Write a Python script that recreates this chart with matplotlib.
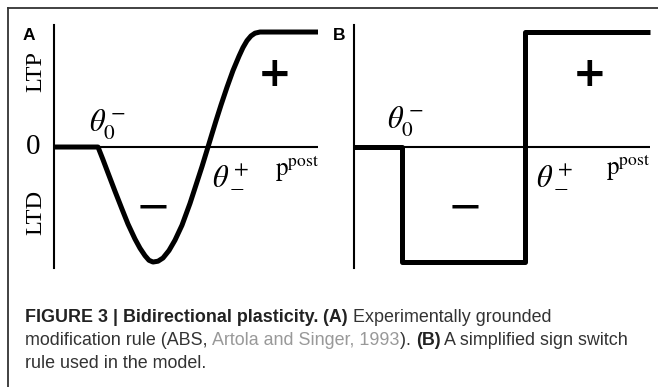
import matplotlib
matplotlib.use("Agg")
import matplotlib.pyplot as plt
from matplotlib.lines import Line2D

W, H = 658, 387
plt.rcParams["mathtext.fontset"] = "stix"

# (A) experimentally grounded rule (ABS)
abs_x = [0, 1.667, 1.856, 2.045, 2.311, 2.576, 2.803, 3.068, 3.258, 3.447,
         3.598, 3.75, 3.939, 4.129, 4.356, 4.583, 4.848, 5.152, 5.379, 5.606,
         5.833, 5.985, 6.136, 6.326, 6.553, 6.78, 7.008, 7.159, 7.311,
         7.462, 7.614, 7.803, 10.0]
abs_y = [0, 0, -0.11, -0.225, -0.385, -0.54, -0.67, -0.80, -0.88, -0.945,
         -0.985, -1.0, -0.993, -0.965, -0.90, -0.81, -0.68, -0.49, -0.33, -0.17,
         0.0, 0.115, 0.228, 0.365, 0.52, 0.665, 0.79, 0.865, 0.925,
         0.966, 0.99, 1.0, 1.0]

# (B) simplified sign switch rule
switch_x = [0, 1.62, 1.62, 5.78, 5.78, 10.0]
switch_y = [0, 0, -1.0, -1.0, 1.0, 1.0]

caption = [
    [("FIGURE 3 | Bidirectional plasticity.", "bold", "#222222"),
     (" (A)", "bold", "#222222"),
     (" Experimentally grounded", "normal", "#333333")],
    [("modification rule (ABS, ", "normal", "#333333"),
     ("Artola and Singer, 1993", "normal", "#999999"),
     ("). ", "normal", "#333333"),
     ("(B)", "bold", "#222222"),
     (" A simplified sign switch", "normal", "#333333")],
    [("rule used in the model.", "normal", "#333333")],
]
caption_baselines = [322, 345, 368]

fig = plt.figure(figsize=(W / 100, H / 100), dpi=100)
fig.patch.set_facecolor("white")

# outer frame (top and left edges only)
fig.add_artist(Line2D([8 / W, 1], [1 - 8 / H, 1 - 8 / H], color="#333333", lw=1.3))
fig.add_artist(Line2D([8 / W, 8 / W], [0, 1 - 8 / H], color="#333333", lw=1.3))

bottom, height = 1 - 268 / H, 243 / H
axA = fig.add_axes([54 / W, bottom, 264 / W, height])
axB = fig.add_axes([354 / W, bottom, 296 / W, height])

serif = "Liberation Serif"
for ax, x, y in [(axA, abs_x, abs_y), (axB, switch_x, switch_y)]:
    ax.set_xlim(0, 10)
    ax.set_ylim(-1.052, 1.061)
    for s in ["top", "right", "bottom"]:
        ax.spines[s].set_visible(False)
    ax.spines["left"].set_linewidth(1.5)
    ax.set_xticks([])
    ax.set_yticks([])
    ax.patch.set_alpha(0)
    ax.axhline(0, color="black", lw=1.5)
    ax.plot(x, y, color="black", lw=3.6, solid_joinstyle="round",
            solid_capstyle="butt", clip_on=False)

theta0 = r"$\theta_0^-$"
theta_pm = r"$\theta_-^+$"
ppost = r"$\mathrm{p}^{\mathrm{post}}$"

# panel A labels
axA.text(-0.95, 0.97, "A", fontsize=12.5, fontweight="bold", family="Liberation Sans",
         ha="center", va="center")
axA.text(-0.70, 0.66, "LTP", fontsize=17.5, family=serif, rotation=90,
         ha="center", va="center")
axA.text(-0.80, 0.0, "0", fontsize=21, family=serif, ha="center", va="center")
axA.text(-0.70, -0.57, "LTD", fontsize=17.5, family=serif, rotation=90,
         ha="center", va="center")
axA.text(2.01, 0.19, theta0, fontsize=22, ha="center", va="center")
axA.text(6.70, -0.24, theta_pm, fontsize=22, ha="center", va="center")
axA.text(9.2, -0.18, ppost, fontsize=18, ha="center", va="center")
axA.text(8.37, 0.63, "+", fontsize=29, fontweight="bold", ha="center", va="center")
axA.text(3.75, -0.53, "\u2212", fontsize=30, ha="center", va="center")

# panel B labels
axB.text(-0.51, 0.97, "B", fontsize=12.5, fontweight="bold", family="Liberation Sans",
         ha="center", va="center")
axB.text(1.72, 0.22, theta0, fontsize=22, ha="center", va="center")
axB.text(6.76, -0.24, theta_pm, fontsize=22, ha="center", va="center")
axB.text(9.26, -0.17, ppost, fontsize=18, ha="center", va="center")
axB.text(7.97, 0.63, "+", fontsize=29, fontweight="bold", ha="center", va="center")
axB.text(3.75, -0.53, "\u2212", fontsize=30, ha="center", va="center")

# caption, built run by run so bold / grey parts follow on
renderer = fig.canvas.get_renderer()
for runs, base in zip(caption, caption_baselines):
    xpix = 25
    for s, weight, color in runs:
        t = fig.text(xpix / W, 1 - base / H, s, fontsize=12.9, fontweight=weight,
                     color=color, family="Liberation Sans", va="baseline", ha="left")
        xpix += t.get_window_extent(renderer).width

fig.savefig("out.png", dpi=100, facecolor="white")
